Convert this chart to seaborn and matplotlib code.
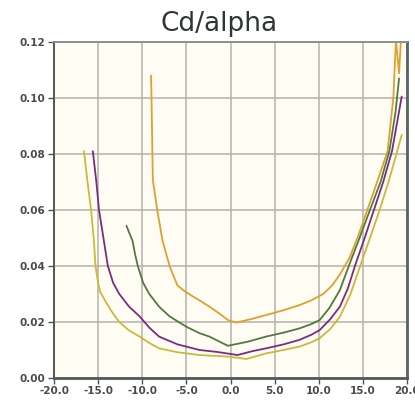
import numpy as np
import pandas as pd
import matplotlib
matplotlib.use("Agg")
import matplotlib.pyplot as plt
import seaborn as sns

# Data
orange_alpha = [-9.0, -8.95, -8.85, -8.8, -8.3, -7.7, -6.9, -6.4, -6.0, -5.2, -4.3, -3.4, -2.4, -1.25,
                -0.3, 0.65, 2.3, 4.05, 6.0, 7.8, 9.2, 10.5, 11.5, 12.4, 13.5, 14.5, 15.5, 16.5, 17.8,
                18.45, 18.75, 19.1, 19.3]
orange_cd = [0.108, 0.100, 0.080, 0.0707, 0.060, 0.049, 0.040, 0.036, 0.033, 0.031, 0.0292, 0.0275,
             0.0255, 0.023, 0.0207, 0.0198, 0.0210, 0.0225, 0.0242, 0.026, 0.0278, 0.030, 0.033,
             0.037, 0.043, 0.051, 0.060, 0.069, 0.081, 0.100, 0.1207, 0.1088, 0.120]

green_alpha = [-11.8, -11.1, -10.8, -10.5, -9.9, -9.2, -8.1, -6.9, -5.0, -3.5, -2.4, -0.3, 2.0, 4.05,
               6.0, 7.8, 9.2, 10.1, 11.2, 12.4, 13.4, 14.5, 15.8, 17.0, 18.0, 18.7, 19.1]
green_cd = [0.0544, 0.049, 0.044, 0.040, 0.034, 0.030, 0.0255, 0.022, 0.0183, 0.016, 0.0148, 0.0115,
            0.0130, 0.0148, 0.0162, 0.0177, 0.0193, 0.0207, 0.025, 0.0314, 0.040, 0.049, 0.060,
            0.070, 0.081, 0.095, 0.107]

purple_alpha = [-15.6, -15.2, -14.9, -14.4, -13.9, -13.3, -12.6, -11.5, -10.3, -9.2, -8.1, -6.0, -3.5,
                -1.5, 0.8, 2.5, 4.05, 6.0, 7.8, 9.2, 10.1, 11.3, 12.4, 13.3, 14.1, 15.2, 16.25, 17.3,
                18.3, 19.4]
purple_cd = [0.081, 0.070, 0.060, 0.050, 0.040, 0.034, 0.030, 0.0255, 0.022, 0.018, 0.0148, 0.0120,
             0.010, 0.0093, 0.0082, 0.0096, 0.0106, 0.0120, 0.0136, 0.0155, 0.0171, 0.021, 0.0255,
             0.032, 0.040, 0.050, 0.060, 0.070, 0.081, 0.1005]

yellow_alpha = [-16.6, -16.2, -15.8, -15.5, -15.3, -15.0, -14.8, -14.1, -13.3, -12.6, -11.5, -10.3,
                -9.2, -8.1, -6.0, -3.5, -0.1, 1.8, 4.05, 6.0, 7.8, 9.2, 10.1, 11.3, 12.4, 13.6, 14.7,
                15.8, 16.9, 17.9, 18.8, 19.4]
yellow_cd = [0.081, 0.070, 0.060, 0.050, 0.040, 0.034, 0.031, 0.027, 0.023, 0.020, 0.017, 0.0148,
             0.0125, 0.0106, 0.0092, 0.0082, 0.0076, 0.0068, 0.0088, 0.0100, 0.0112, 0.0128, 0.0142,
             0.0175, 0.0219, 0.030, 0.040, 0.050, 0.060, 0.070, 0.080, 0.0868]

series_names = ["orange", "green", "purple", "yellow"]
series_colors = ["#DFA02E", "#4F7B3F", "#7B2C7E", "#CDB73E"]
x_ticks = [-20.0, -15.0, -10.0, -5.0, 0.0, 5.0, 10.0, 15.0, 20.0]
y_ticks = [0.00, 0.02, 0.04, 0.06, 0.08, 0.10, 0.12]
title = "Cd/alpha"

frames = []
for name, a, c in [("orange", orange_alpha, orange_cd), ("green", green_alpha, green_cd),
                   ("purple", purple_alpha, purple_cd), ("yellow", yellow_alpha, yellow_cd)]:
    frames.append(pd.DataFrame({"alpha": a, "cd": c, "series": name}))
df = pd.concat(frames, ignore_index=True)

sns.set_style("white")
plt.rcParams['font.family'] = ['DejaVu Sans']

fig = plt.figure(figsize=(4.15, 4.04), dpi=100)
ax = fig.add_axes([54 / 415, 1 - 378 / 404, (407 - 54) / 415, (378 - 42) / 404])
ax.set_facecolor("#FFFDF3")

sns.lineplot(data=df, x="alpha", y="cd", hue="series", hue_order=series_names,
             palette=series_colors, sort=False, estimator=None, units="series",
             linewidth=1.3, legend=False, ax=ax)

ax.set_xlim(-20, 20)
ax.set_ylim(0, 0.12)
ax.set_xticks(x_ticks)
ax.set_yticks(y_ticks)
ax.set_xticklabels([f"{v:.1f}" for v in x_ticks])
ax.set_yticklabels([f"{v:.2f}" for v in y_ticks])
ax.grid(True, color="#B4B2AC", linewidth=1.1)
ax.set_axisbelow(True)
ax.set_xlabel("")
ax.set_ylabel("")

for lab in ax.get_xticklabels() + ax.get_yticklabels():
    lab.set_fontweight("bold")
    lab.set_fontsize(7.5)
    lab.set_color("#4A4A4A")
ax.tick_params(axis="both", length=4, width=1, color="#555555", pad=2, direction="out",
               bottom=True, left=True)

ax.spines["left"].set_color("#555555")
ax.spines["left"].set_linewidth(1.4)
ax.spines["bottom"].set_color("#4F5B5B")
ax.spines["bottom"].set_linewidth(2.0)
ax.spines["right"].set_color("#5A6464")
ax.spines["right"].set_linewidth(2.0)
ax.spines["top"].set_color("#8A9090")
ax.spines["top"].set_linewidth(1.4)

fig.text(219 / 415, 1 - 31 / 404, title, ha="center", va="baseline", fontsize=19, color="#2E3535")

fig.savefig("out.png", dpi=100, facecolor="white")
